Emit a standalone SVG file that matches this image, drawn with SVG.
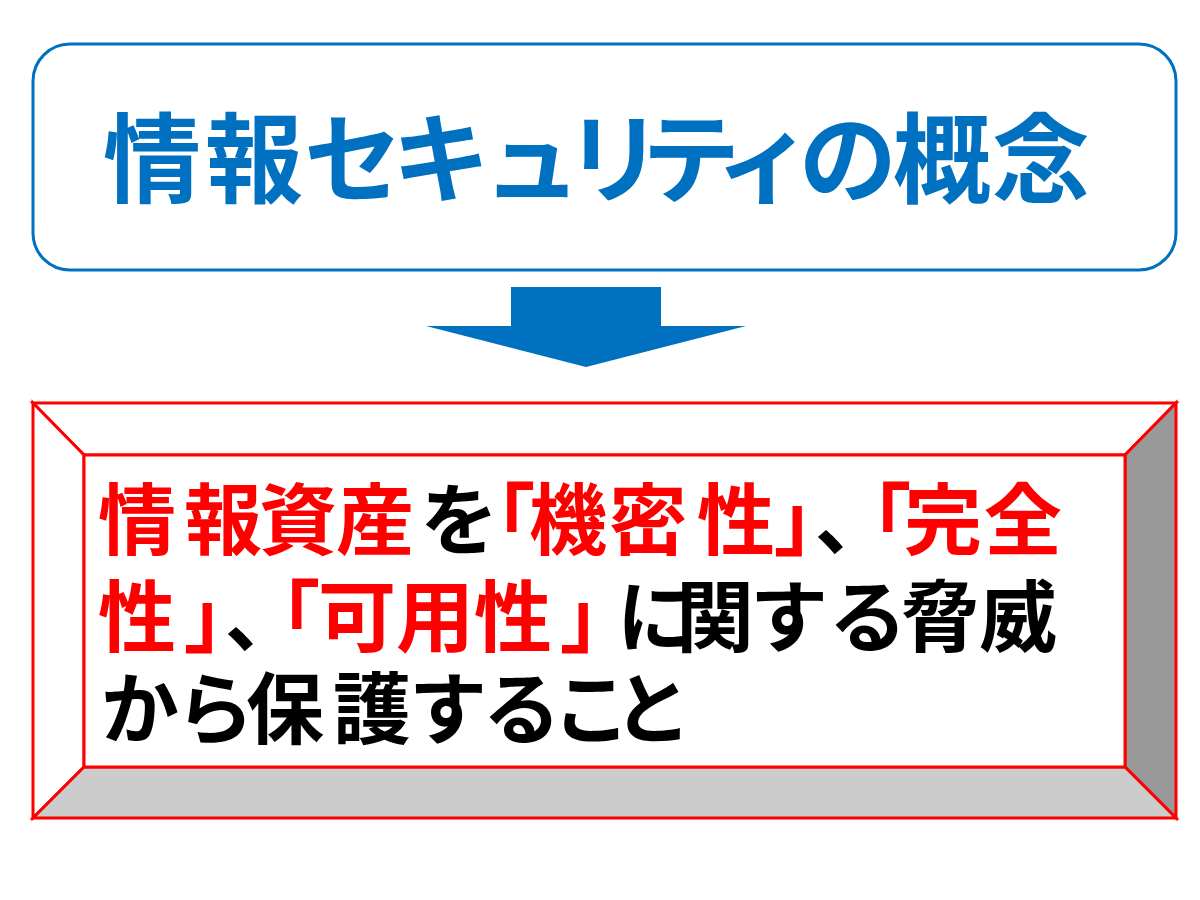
<svg xmlns="http://www.w3.org/2000/svg" width="1200" height="900" viewBox="0 0 1200 900">
  <style>
    .t { font-family: "Noto Sans CJK JP", "Noto Sans", sans-serif; font-weight: bold; }
    .title { font-size: 98px; fill: #0070C0; }
    .body { font-size: 78px; fill: #000000; font-feature-settings: "palt"; }
    .red { fill: #FF0000; }
    .edge { stroke: #FF0000; stroke-width: 3; stroke-linejoin: miter; }
  </style>
  <rect width="1200" height="900" fill="#FFFFFF"/>

  <g id="title-node">
    <rect x="33" y="44" width="1143" height="226" rx="37" ry="37" fill="#FFFFFF" stroke="#0070C0" stroke-width="3"/>
    <text class="t title" y="195" x="103 205 304 392 483 565 642 715 799 893 992">情報セキュリティの概念</text>
  </g>

  <g id="connectors">
    <polygon points="511,287 661,287 661,326 746,326 586,367 426,326 511,326" fill="#0070C0"/>
  </g>

  <g id="definition-node">
    <polygon class="edge" points="33,403 1176,403 1125,455 84,455" fill="#FFFFFF"/>
    <polygon class="edge" points="33,403 84,455 84,767 33,818" fill="#FFFFFF"/>
    <polygon class="edge" points="1176,403 1176,818 1125,767 1125,455" fill="#999999"/>
    <polygon class="edge" points="33,818 84,767 1125,767 1176,818" fill="#CCCCCC"/>
    <rect class="edge" x="84" y="455" width="1041" height="312" fill="#FFFFFF"/>
    <text class="t body" y="549"><tspan class="red" x="98 184 259 336">情報資産</tspan><tspan x="421">を</tspan><tspan class="red" x="495 529 609 697 775">「機密性」</tspan><tspan x="815">、</tspan><tspan class="red" x="871 904 984">「完全</tspan></text>
    <text class="t body" y="646"><tspan class="red" x="98 185">性」</tspan><tspan x="225">、</tspan><tspan class="red" x="280 318 396 474 561">「可用性」</tspan><tspan x="617 676 754 831 901 979">に関する脅威</tspan></text>
    <text class="t body" y="738" x="101 181 246 333 413 485 558 618">から保護すること</text>
  </g>
</svg>
